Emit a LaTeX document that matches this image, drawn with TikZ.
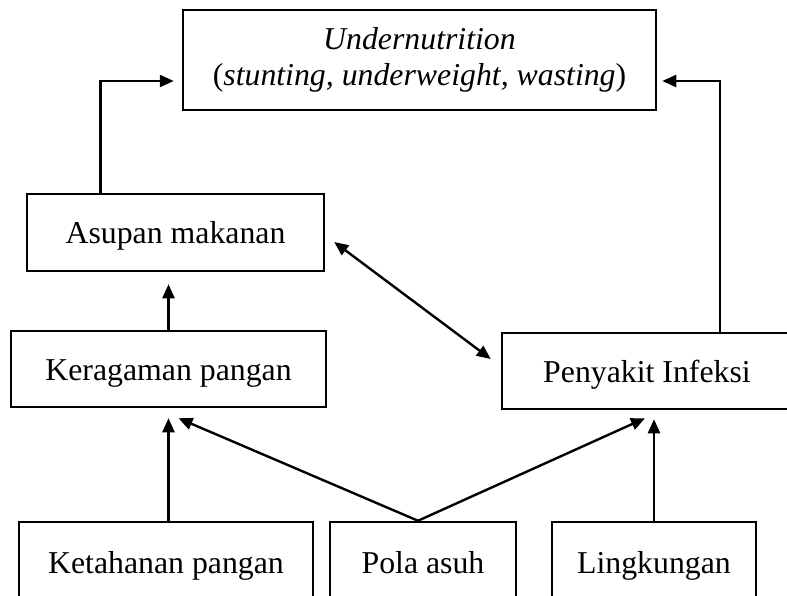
\documentclass[tikz,border=0pt]{standalone}
\usepackage{fontspec}
\setmainfont{Liberation Serif}
\usetikzlibrary{arrows.meta,calc}
\begin{document}
\begin{tikzpicture}[x=1pt,y=-1pt,
        kotak/.style={draw,line width=2.5pt,align=center,inner sep=0pt,font=\fontsize{31.8}{36}\selectfont},
        satu/.style={kotak,text height=22pt,text depth=0pt},
        panah/.style={line width=2.4pt,>={Triangle[length=14pt,width=12pt]},->}]
        \useasboundingbox (0,0) rectangle (787,596);
        \clip (0,0) rectangle (787,596);
        \node[kotak,minimum width=473pt,minimum height=100pt](under) at (419.5,60){\textit{Undernutrition}\\(\textit{stunting, underweight, wasting})};
        \node[satu,minimum width=297pt,minimum height=77pt](asupan) at (175.5,232.5){Asupan makanan};
        \node[satu,minimum width=315pt,minimum height=76pt](ragam) at (168.5,369){Keragaman pangan};
        \node[satu,minimum width=290pt,minimum height=76pt](infeksi) at (647,371){Penyakit Infeksi};
        \node[satu,minimum width=294pt,minimum height=80pt](tahan) at (166,562){Ketahanan pangan};
        \node[satu,minimum width=186pt,minimum height=80pt](pola) at (423,562){Pola asuh};
        \node[satu,minimum width=204pt,minimum height=80pt](lingk) at (654,562){Lingkungan};
        % ke undernutrition
        \draw[panah]($(asupan.north west)!0.25!(asupan.north east)$) |- ([shift={(-8,21)}]under.west);
        \draw[panah]([shift={(73,0)}]infeksi.north) |- ([shift={(5,21)}]under.east);
        \draw[panah](ragam.north) -- ($(ragam.north |- asupan.south)+(0,12)$);
        \draw[panah,<->]([shift={(9,9.5)}]asupan.east) -- ([shift={(-10,-12)}]infeksi.west);
        % faktor bawah
        \draw[panah](tahan.north -| ragam.south) -- ([shift={(0,10)}]ragam.south);
        \draw[panah]([shift={(-5,0)}]pola.north) -- ([shift={(10,10)}]ragam.south);
        \draw[panah]([shift={(-5,0)}]pola.north) -- ([shift={(-2,8)}]infeksi.south);
        \draw[panah](lingk.north) -- ($(lingk.north |- infeksi.south)+(0,9)$);
\end{tikzpicture}
\end{document}
